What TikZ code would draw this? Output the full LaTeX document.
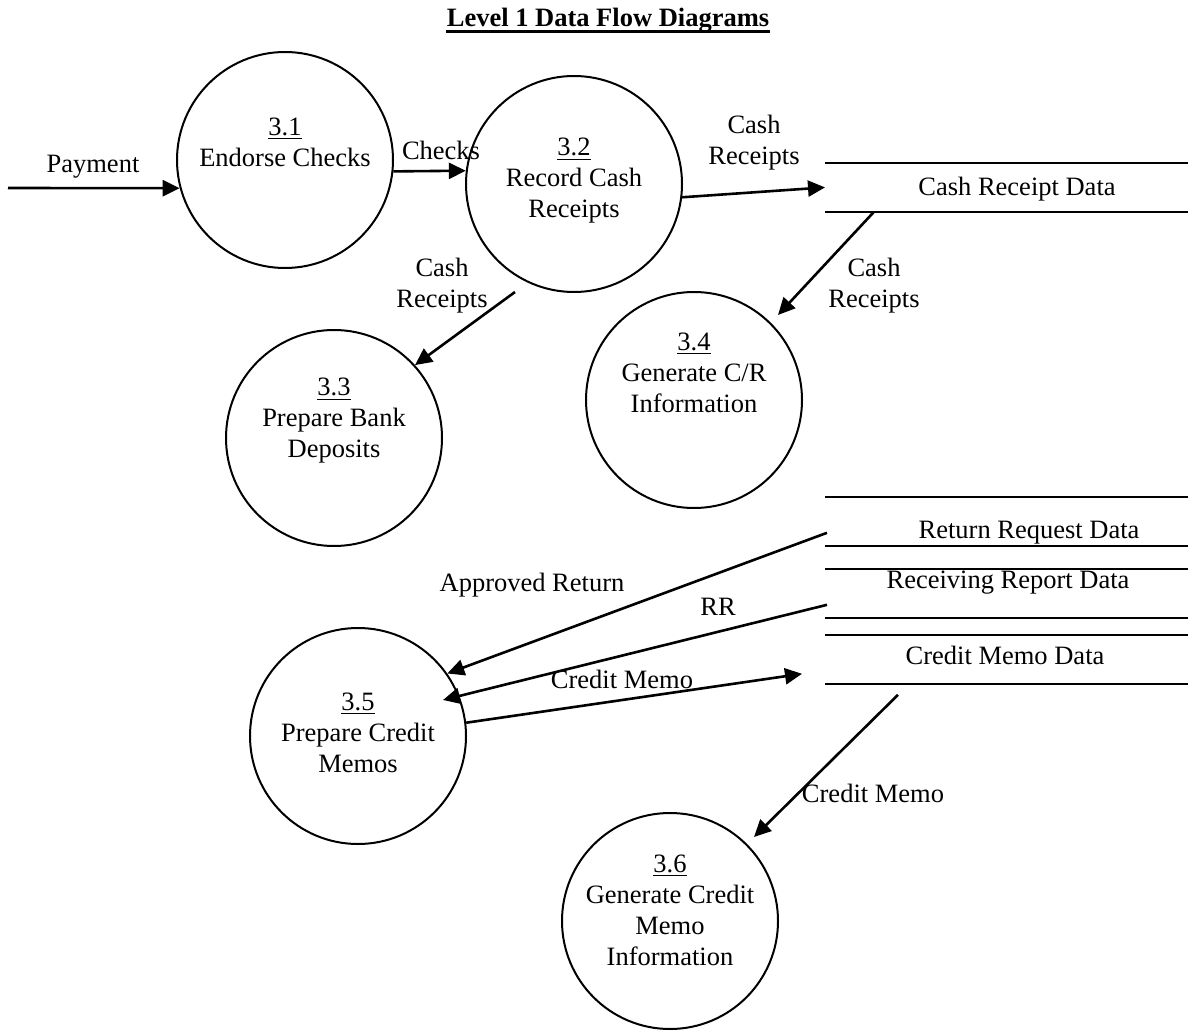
\documentclass[tikz,border=0pt]{standalone}
\usepackage{fontspec}
\setmainfont{Liberation Serif}
\usetikzlibrary{arrows.meta,calc}
\begin{document}
\begin{tikzpicture}[x=0.5pt,y=-0.5pt,
  every node/.style={font=\fontsize{13.25}{15.5}\selectfont},
  proc/.style={circle,draw,line width=1pt,minimum size=108pt,inner sep=0pt},
  lbl/.style={align=center,inner sep=0pt},
  store/.style={rectangle,minimum width=181.5pt,minimum height=24pt,inner sep=0pt,anchor=north west},
  storeline/.style={line width=1.2pt},
  flow/.style={line width=1.3pt,-{Triangle[length=8.5pt,width=8pt]}}]
\useasboundingbox (0,0) rectangle (1188,1032);

% title
\node[lbl,font=\bfseries\fontsize{13.25}{15.5}\selectfont] (title) at (608,20) {Level 1 Data Flow Diagrams};
\draw[line width=1.3pt] ($(title.south west)+(0,-1)$) -- ($(title.south east)+(0,-1)$);

% processes
\node[proc] (p31) at (285,160) {};
\node[lbl] (t31) at (285,142) {\underline{3.1}\\Endorse Checks};
\node[proc] (p32) at (574,184) {};
\node[lbl] (t32) at (574,181) {\underline{3.2}\\Record Cash\\Receipts};
\node[proc] (p33) at (334,438) {};
\node[lbl] (t33) at (334,421) {\underline{3.3}\\Prepare Bank\\Deposits};
\node[proc] (p34) at (694,400) {};
\node[lbl] (t34) at (694,373) {\underline{3.4}\\Generate C/R\\Information};
\node[proc] (p35) at (358,736) {};
\node[lbl] (t35) at (358,733) {\underline{3.5}\\Prepare Credit\\Memos};
\node[proc] (p36) at (670,921) {};
\node[lbl] (t36) at (670,910) {\underline{3.6}\\Generate Credit\\Memo\\Information};

% data stores
\node[store] (crd) at (825,163) {};
\node[store] (rrd) at (825,497) {};
\node[store] (rpd) at (825,569) {};
\node[store] (cmd) at (825,635) {};
\foreach \s in {crd,rrd,rpd,cmd}
  \draw[storeline] (\s.north west) -- (\s.north east) (\s.south west) -- (\s.south east);
\node[lbl] (crdt) at (1017,189) {Cash Receipt Data};
\node[lbl] (rrdt) at (1029,533) {Return Request Data};
\node[lbl] (rpdt) at (1008,583) {Receiving Report Data};
\node[lbl] (cmdt) at (1005,655) {Credit Memo Data};

% flow end points
\coordinate (payin) at (8,188);
\coordinate (c32b) at ($(p32.center)+(-59,108)$);
\coordinate (c34s) at ($(crd.south west)+(49,0)$);
\coordinate (c34t) at ($(p34.center)+(84,-85)$);
\coordinate (rrs) at ($(rrd.south west)+(2,-13)$);
\coordinate (rps) at ($(rpd.south west)+(2,-13)$);
\coordinate (rpt) at ($(p35.center)+(85,-36)$);
\coordinate (cmt) at ($(cmd.south west)+(-23,-10)$);
\coordinate (cms) at ($(cmd.south west)+(73,11)$);
\coordinate (c36t) at ($(p36.center)+(84,-84)$);

% flows
\draw[flow] (payin) -- (p31.195);
\node[lbl] (payl) at (93,167) {Payment};

\draw[flow] (p31.-6.4) -- (p32.173.6);
\node[lbl] (chkl) at (441,150) {Checks};

\draw[flow] (p32.-7) -- (crd.west);
\node[lbl] (cr1) at (754,142.5) {Cash\\Receipts};

\draw[flow] (c32b) -- (p33.42);
\node[lbl] (cr2) at (442,286) {Cash\\Receipts};

\draw[flow] (c34s) -- (c34t);
\node[lbl] (cr3) at (874,286) {Cash\\Receipts};

\draw[flow] (rrs) -- (p35.35);
\node[lbl] (arl) at (532,585) {Approved Return};

\draw[flow] (rps) -- (rpt);
\node[lbl] (rrl) at (718,607) {RR};

\draw[flow] (p35.7) -- (cmt);
\node[lbl] (cml1) at (622,679) {Credit Memo};

\draw[flow] (cms) -- (c36t);
\node[lbl] (cml2) at (873,793) {Credit Memo};
\end{tikzpicture}
\end{document}
